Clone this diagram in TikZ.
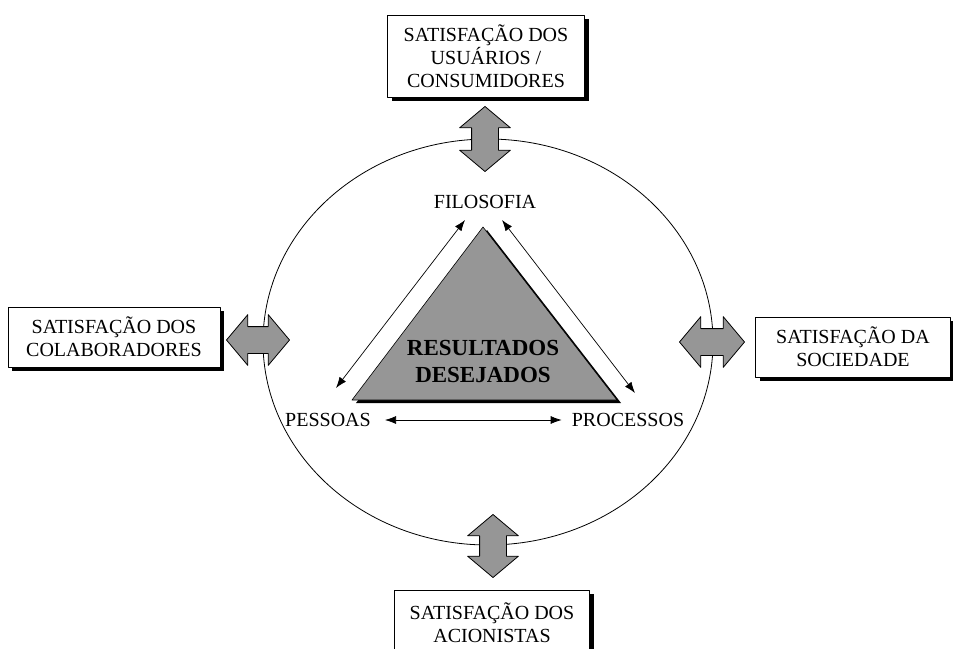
\documentclass[tikz,border=0pt]{standalone}
\usepackage{fontspec}
\setmainfont{Liberation Serif}
\usetikzlibrary{shapes.arrows,shadows,arrows.meta}
\definecolor{fillgray}{RGB}{150,150,150}
\tikzset{
  satbox/.style={draw,fill=white,line width=0.8pt,align=center,inner sep=0pt,
    drop shadow={shadow xshift=4pt,shadow yshift=-4pt,opacity=1,fill=black},
    font=\fontsize{20}{23}\selectfont},
  bigarrow/.style={double arrow,draw,fill=fillgray,line width=0.8pt,inner xsep=0pt,inner ysep=13pt,
    minimum width=50pt,double arrow head extend=12pt,double arrow tip angle=100},
  corner/.style={font=\fontsize{20}{23}\selectfont,inner sep=2pt},
  link/.style={{Latex[length=11pt,width=8pt]}-{Latex[length=11pt,width=8pt]},line width=0.7pt}
}
\begin{document}
\begin{tikzpicture}[x=1pt,y=-1pt,line cap=round,line join=round]
  \useasboundingbox (0,0) rectangle (953,648);
  % circulo externo
  \draw[line width=0.8pt] (488,342) ellipse [x radius=225, y radius=203];
  % setas grandes
  \node[bigarrow,minimum height=65pt,rotate=90] (au) at (485,139) {};
  \node[bigarrow,minimum height=63pt,rotate=90] (ad) at (493,546) {};
  \node[bigarrow,minimum height=63pt] (al) at (258,340) {};
  \node[bigarrow,minimum height=65pt] (ar) at (712,342) {};
  % caixas de satisfacao
  \node[satbox,minimum width=197pt,minimum height=82pt] (usu) at (486,56) {SATISFAÇÃO DOS\\USUÁRIOS /\\CONSUMIDORES};
  \node[satbox,minimum width=212pt,minimum height=60pt] (col) at (114,337) {SATISFAÇÃO DOS\\COLABORADORES};
  \node[satbox,minimum width=195pt,minimum height=60pt] (soc) at (853,347) {SATISFAÇÃO DA\\SOCIEDADE};
  \node[satbox,minimum width=195pt,minimum height=66pt] (aci) at (492,623) {SATISFAÇÃO DOS\\ACIONISTAS};
  % triangulo
  \coordinate (ta) at (483,227);
  \coordinate (tb) at (352,400);
  \coordinate (tc) at (617,400);
  \fill[black] ([shift={(4,3)}]ta) -- ([shift={(4,3)}]tb) -- ([shift={(4,3)}]tc) -- cycle;
  \draw[fill=fillgray,line width=0.6pt] (ta) -- (tb) -- (tc) -- cycle;
  \node[font=\bfseries\fontsize{23}{27}\selectfont,align=center] (res) at (483,361) {RESULTADOS\\DESEJADOS};
  % vertices
  \node[corner] (fil) at (485,202) {FILOSOFIA};
  \node[corner] (pes) at (328,420) {PESSOAS};
  \node[corner] (pro) at (628,420) {PROCESSOS};
  \draw[link,shorten <=12pt,shorten >=8pt] (pes) -- (pro);
  \coordinate (fl) at ([shift={(-20,18)}]fil.center);
  \coordinate (fr) at ([shift={(17,18)}]fil.center);
  \coordinate (pl) at ([shift={(8,-32)}]pes.center);
  \coordinate (pr) at ([shift={(7,-27)}]pro.center);
  \draw[link] (fl) -- (pl);
  \draw[link] (fr) -- (pr);
\end{tikzpicture}
\end{document}
